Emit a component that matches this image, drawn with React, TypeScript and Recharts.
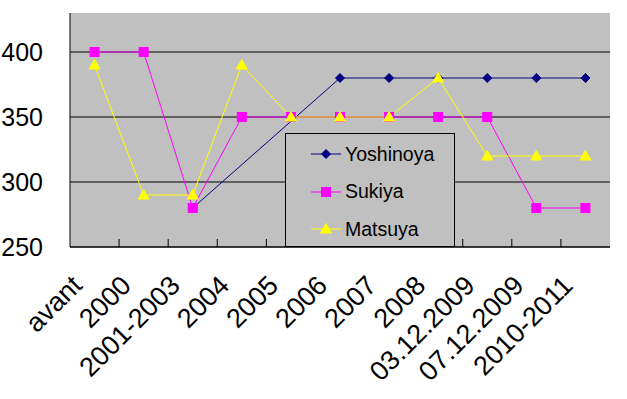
import React from 'react';
import { LineChart, Line, XAxis, YAxis, CartesianGrid } from 'recharts';

const categories = ['avant', '2000', '2001-2003', '2004', '2005', '2006', '2007', '2008', '03.12.2009', '07.12.2009', '2010-2011'];
const yoshinoya = [null, null, 280, null, null, 380, 380, 380, 380, 380, 380];
const sukiya = [400, 400, 280, 350, 350, 350, 350, 350, 350, 280, 280];
const matsuya = [390, 290, 290, 390, 350, 350, 350, 380, 320, 320, 320];
const yTicks = [250, 300, 350, 400];

const data = categories.map((c, i) => ({
  name: c,
  Yoshinoya: yoshinoya[i],
  Sukiya: sukiya[i],
  Matsuya: matsuya[i],
}));

const FONT = "'Liberation Sans', Arial, sans-serif";
const PLOT_LEFT = 70;
const PLOT_RIGHT = 610;
const BAND = (PLOT_RIGHT - PLOT_LEFT) / categories.length;

const Diamond = ({ cx, cy, color }: any) => (
  <path d={`M${cx},${cy - 4.5}L${cx + 4.5},${cy}L${cx},${cy + 4.5}L${cx - 4.5},${cy}Z`} fill={color} stroke={color} />
);
const Square = ({ cx, cy, color }: any) => (
  <rect x={cx - 4.5} y={cy - 4.5} width={9} height={9} fill={color} stroke={color} />
);
const Triangle = ({ cx, cy, color }: any) => (
  <path d={`M${cx},${cy - 5.5}L${cx + 5.5},${cy + 4}L${cx - 5.5},${cy + 4}Z`} fill={color} stroke={color} />
);

const markers: Record<string, any> = { Yoshinoya: Diamond, Sukiya: Square, Matsuya: Triangle };

const makeDot = (name: string, color: string) => (props: any) => {
  const { cx, cy, index, value } = props;
  if (value == null || cx == null || cy == null) return <g key={`${name}-${index}`} />;
  const M = markers[name];
  return <M key={`${name}-${index}`} cx={cx} cy={cy} color={color} />;
};

const XTick = (props: any) => {
  const { x, y, payload, index } = props;
  const ax = x - 11;
  const ay = y + 40;
  return (
    <g>
      {index > 0 && <line x1={x - BAND / 2} x2={x - BAND / 2} y1={y} y2={y - 8} stroke="#000" />}
      <text x={ax} y={ay} transform={`rotate(-45, ${ax}, ${ay})`} textAnchor="end" fontSize={27} fontFamily={FONT} fill="#000">
        {payload.value}
      </text>
    </g>
  );
};

const series = [
  { key: 'Yoshinoya', color: '#000080' },
  { key: 'Sukiya', color: '#FF00FF' },
  { key: 'Matsuya', color: '#FFFF00' },
];

const LegendBox = () => (
  <div
    style={{
      position: 'absolute',
      left: 285,
      top: 133,
      width: 168,
      height: 112,
      border: '1px solid #000',
      background: '#C0C0C0',
      fontFamily: FONT,
    }}
  >
    {series.map((s, i) => {
      const M = markers[s.key];
      return (
        <div key={s.key} style={{ position: 'absolute', left: 0, top: 7 + i * 37.5, height: 26, display: 'flex', alignItems: 'center' }}>
          <svg width={56} height={26} style={{ display: 'block' }}>
            <line x1={25} x2={55} y1={13} y2={13} stroke={s.color} />
            <M cx={40} cy={13} color={s.color} />
          </svg>
          <span style={{ fontSize: 19.5, color: '#000', marginLeft: 3 }}>{s.key}</span>
        </div>
      );
    })}
  </div>
);

export default function App() {
  return (
    <div style={{ position: 'absolute', left: 0, top: 0, width: 627, height: 399, background: '#fff' }}>
      <LineChart width={627} height={399} data={data} margin={{ top: 13, right: 17, bottom: 0, left: 0 }}>
        <CartesianGrid vertical={false} fill="#C0C0C0" stroke="#000" horizontalValues={yTicks} />
        <XAxis
          dataKey="name"
          height={152}
          interval={0}
          padding={{ left: BAND / 2, right: BAND / 2 }}
          tickLine={false}
          tickSize={0}
          tickMargin={0}
          axisLine={{ stroke: '#000' }}
          tick={<XTick />}
        />
        <XAxis xAxisId="top" dataKey="name" orientation="top" height={0} tick={false} tickLine={false} axisLine={{ stroke: '#808080' }} />
        <YAxis
          domain={[250, 430]}
          ticks={yTicks}
          width={70}
          tickLine={false}
          tickSize={0}
          tickMargin={27}
          axisLine={{ stroke: '#000' }}
          tick={{ fontSize: 25, fontFamily: FONT, fill: '#000' }}
        />
        <YAxis yAxisId="right" orientation="right" width={0} tick={false} tickLine={false} axisLine={{ stroke: '#808080' }} />
        {series.map((s) => (
          <Line
            key={s.key}
            dataKey={s.key}
            stroke={s.color}
            strokeWidth={1}
            connectNulls
            isAnimationActive={false}
            dot={makeDot(s.key, s.color)}
            activeDot={false}
          />
        ))}
      </LineChart>
      <LegendBox />
    </div>
  );
}
